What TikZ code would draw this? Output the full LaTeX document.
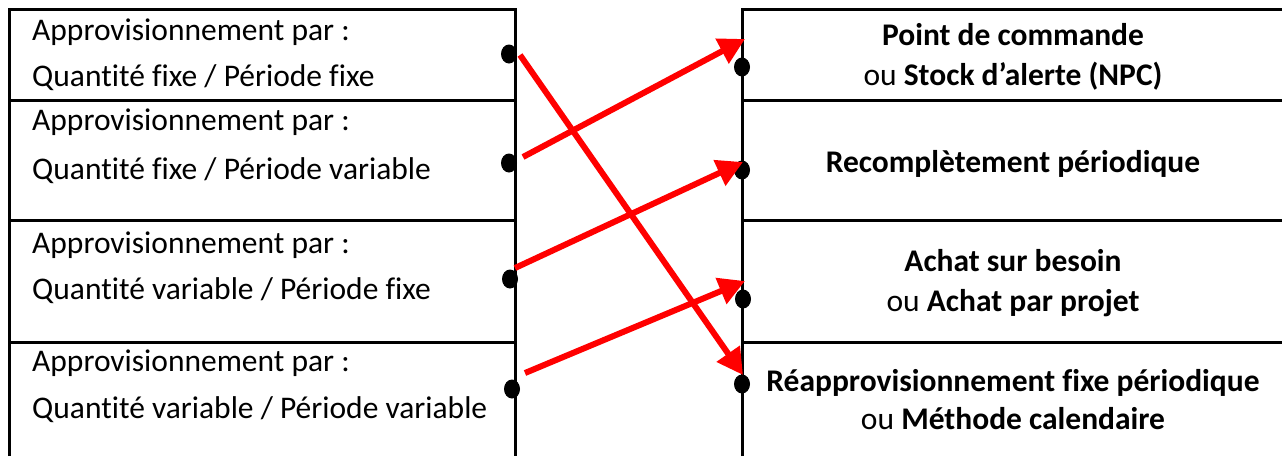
\documentclass[tikz,border=0pt]{standalone}
\usepackage{fontspec}
\setmainfont[Ligatures=NoCommon]{Carlito}
\usetikzlibrary{arrows.meta,shapes.geometric}
\begin{document}
\begin{tikzpicture}[x=1pt,y=-1pt,
  frame/.style={line width=3pt,black},
  lefttxt/.style={anchor=base west,inner sep=0pt,font=\fontsize{31.5}{36}\selectfont},
  righttxt/.style={anchor=base,inner sep=0pt,font=\fontsize{31.5}{36}\selectfont},
  dot/.style={fill=black,ellipse,minimum width=16pt,minimum height=19pt,inner sep=0pt},
  link/.style={red,line width=6pt,-{Triangle[length=26pt,width=27pt]}}]
\useasboundingbox (0,0) rectangle (1282,456);
% frames
\draw[frame] (9,456) -- (9,9) -- (515,9) -- (515,456);
\draw[frame] (9,100) -- (515,100);
\draw[frame] (9,220) -- (515,220);
\draw[frame] (9,342) -- (515,342);
\draw[frame] (742,456) -- (742,9) -- (1282,9);
\draw[frame] (742,100) -- (1282,100);
\draw[frame] (742,220) -- (1282,220);
\draw[frame] (742,342) -- (1282,342);
% left texts
\node[lefttxt] (l1a) at (32,40) {Approvisionnement par :};
\node[lefttxt] (l1b) at (32,86) {Quantité fixe / Période fixe};
\node[lefttxt] (l2a) at (32,130) {Approvisionnement par :};
\node[lefttxt] (l2b) at (32,179) {Quantité fixe / Période variable};
\node[lefttxt] (l3a) at (32,253) {Approvisionnement par :};
\node[lefttxt] (l3b) at (32,299) {Quantité variable / Période fixe};
\node[lefttxt] (l4a) at (32,371) {Approvisionnement par :};
\node[lefttxt] (l4b) at (32,418) {Quantité variable / Période variable};
% right texts
\node[righttxt] (r1a) at (1013,45) {\textbf{Point de commande}};
\node[righttxt] (r1b) at (1013,85) {ou \textbf{Stock d’alerte (NPC)}};
\node[righttxt] (r2a) at (1013,172) {\textbf{Recomplètement périodique}};
\node[righttxt] (r3a) at (1013,271) {\textbf{Achat sur besoin}};
\node[righttxt] (r3b) at (1013,311) {ou \textbf{Achat par projet}};
\node[righttxt] (r4a) at (1013,391) {\textbf{Réapprovisionnement fixe périodique}};
\node[righttxt] (r4b) at (1013,429) {ou \textbf{Méthode calendaire}};
% dots
\node[dot] (dl1) at (509,54) {};
\node[dot] (dl2) at (509,163) {};
\node[dot] (dl3) at (510,279) {};
\node[dot] (dl4) at (512,389) {};
\node[dot] (dr1) at (742,67) {};
\node[dot] (dr2) at (742,170) {};
\node[dot] (dr3) at (743,299) {};
\node[dot] (dr4) at (742,384) {};
% arrow ends
\coordinate (s1) at (520,55);
\coordinate (e1) at (743,375);
\coordinate (s2) at (523,157);
\coordinate (e2) at (745,39);
\coordinate (s3) at (515,268);
\coordinate (e3) at (743,162);
\coordinate (s4) at (525,373);
\coordinate (e4) at (745,281);
\draw[link] (s1) -- (e1);
\draw[link] (s2) -- (e2);
\draw[link] (s3) -- (e3);
\draw[link] (s4) -- (e4);
\end{tikzpicture}
\end{document}
